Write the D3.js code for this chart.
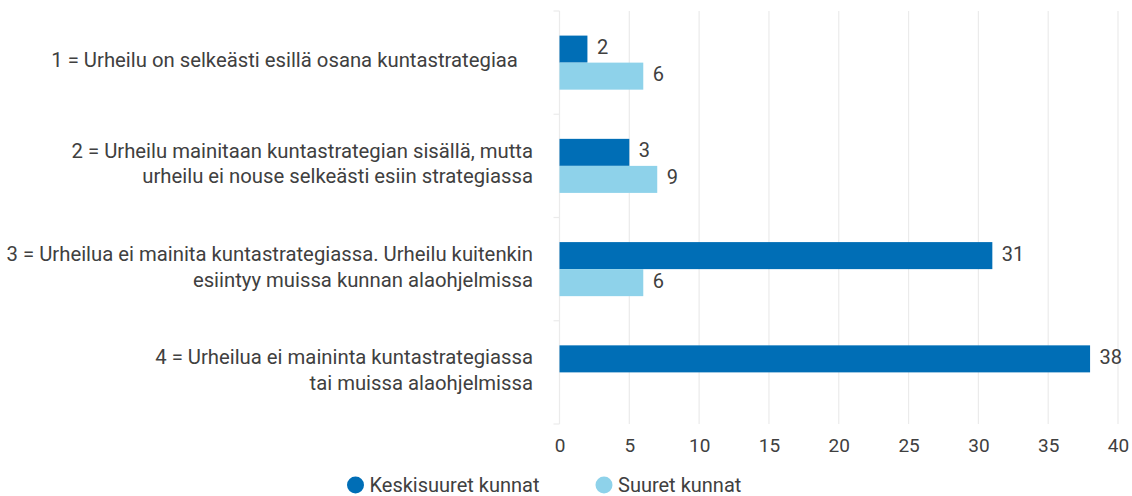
<!DOCTYPE html>
<html>
<head>
<meta charset="utf-8">
<script src="https://cdn.jsdelivr.net/npm/d3@7"></script>
<style>
  body { margin: 0; background: #fff; }
  svg { display: block; }
  text { font-family: Roboto, "Noto Sans", sans-serif; fill: #404040; }
</style>
</head>
<body>
<svg id="chart" width="1132" height="496"></svg>
<script>
// categories, each as the lines shown on the left
const categories = [
  ["1 = Urheilu on selkeästi esillä osana kuntastrategiaa\u00a0\u00a0\u00a0"],
  ["2 = Urheilu mainitaan kuntastrategian sisällä, mutta", "urheilu ei nouse selkeästi esiin strategiassa"],
  ["3 = Urheilua ei mainita kuntastrategiassa. Urheilu kuitenkin", "esiintyy muissa kunnan alaohjelmissa"],
  ["4 = Urheilua ei maininta kuntastrategiassa", "tai muissa alaohjelmissa"]
];
const seriesNames = ["Keskisuuret kunnat", "Suuret kunnat"];
// bar lengths as drawn in the picture
const keskisuuret = [2, 5, 31, 38];
const suuret = [6, 7, 6, null];
// value labels as printed next to the bars
const keskisuuretLabels = ["2", "3", "31", "38"];
const suuretLabels = ["6", "9", "6", ""];
const xTicks = [0, 5, 10, 15, 20, 25, 30, 35, 40];
const colors = ["#006eb6", "#8ed2ea"];

const svg = d3.select("#chart");

const plotTop = 11, plotBottom = 424;
const x = d3.scaleLinear().domain([0, 40]).range([559.5, 1118]);
const y = d3.scaleBand().domain(d3.range(categories.length)).range([plotTop, plotBottom]);
const ySub = d3.scaleBand().domain(d3.range(seriesNames.length))
  .range([0, y.bandwidth()]).paddingOuter(0.91).paddingInner(0);

// grid
svg.append("g").selectAll("line").data(xTicks).join("line")
  .attr("x1", d => x(d)).attr("x2", d => x(d))
  .attr("y1", plotTop).attr("y2", plotBottom)
  .attr("stroke", "#ebebeb").attr("stroke-width", 1.2);

// category ticks on the left
const bounds = y.domain().map(i => y(i)).concat([plotBottom]);
svg.append("g").selectAll("line").data(bounds).join("line")
  .attr("x1", x(0) - 6).attr("x2", x(0))
  .attr("y1", d => d).attr("y2", d => d)
  .attr("stroke", "#ebebeb").attr("stroke-width", 1.2);

// category labels
const lineH = 25.4;
const labels = svg.append("g").selectAll("text").data(categories).join("text")
  .attr("text-anchor", "end")
  .attr("font-size", 20.3)
  .attr("y", (d, i) => y(i) + y.bandwidth() / 2 - (d.length - 1) * lineH / 2 + 4.8);
labels.selectAll("tspan").data(d => d).join("tspan")
  .attr("x", 533)
  .attr("dy", (d, i) => i === 0 ? 0 : lineH)
  .text(d => d);

// bars with value labels
const rows = [
  { vals: keskisuuret, labels: keskisuuretLabels },
  { vals: suuret, labels: suuretLabels }
];
rows.forEach((row, s) => {
  const g = svg.append("g");
  const data = row.vals.map((v, i) => ({ v, i, t: row.labels[i] })).filter(d => d.v != null);
  g.selectAll("rect").data(data).join("rect")
    .attr("x", x(0))
    .attr("y", d => y(d.i) + ySub(s))
    .attr("width", d => x(d.v) - x(0))
    .attr("height", ySub.bandwidth())
    .attr("fill", colors[s]);
  g.selectAll("text").data(data).join("text")
    .attr("x", d => x(d.v) + 9.5)
    .attr("y", d => y(d.i) + ySub(s) + ySub.bandwidth() / 2 + 5)
    .attr("font-size", 20)
    .text(d => d.t);
});

// x axis
const xAxis = d3.axisBottom(x).tickValues(xTicks).tickSize(0).tickPadding(14.2);
const ax = svg.append("g").attr("transform", `translate(0,${plotBottom})`).call(xAxis);
ax.select(".domain").remove();
ax.selectAll("text").attr("font-size", 19).attr("fill", "#404040")
  .style("font-family", "Roboto, sans-serif");

// legend
const legendX = [355.5, 604];
const leg = svg.append("g").selectAll("g").data(seriesNames).join("g")
  .attr("transform", (d, i) => `translate(${legendX[i]},485)`);
leg.append("circle").attr("r", 8.5).attr("fill", (d, i) => colors[i]);
leg.append("text").attr("x", 14).attr("y", 7).attr("font-size", 20).text(d => d);
</script>
</body>
</html>
